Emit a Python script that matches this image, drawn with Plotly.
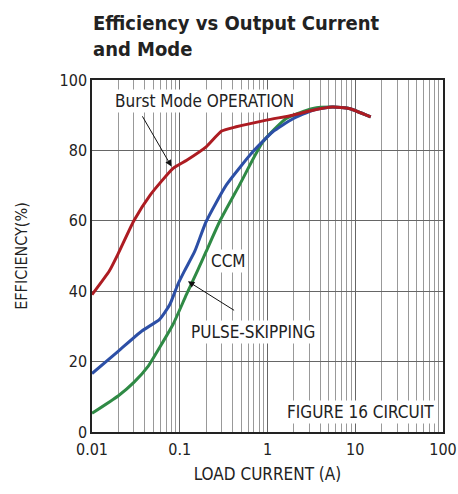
import plotly.graph_objects as go
import math

# ---- data ----
burst_current = [0.01, 0.0158, 0.02, 0.03, 0.046, 0.084, 0.12, 0.2, 0.3, 0.44, 0.97, 1.95, 3.3, 5.5, 8.5, 15]
burst_eff = [39, 45.8, 50.8, 60, 67.3, 74.9, 77.2, 81, 85.5, 86.7, 88.6, 90, 91.4, 92.3, 91.9, 89.5]

pulse_current = [0.01, 0.02, 0.037, 0.059, 0.077, 0.095, 0.114, 0.148, 0.2, 0.34, 0.68, 1.15, 1.95, 3.3, 5.5, 8.5, 15]
pulse_eff = [16.6, 23, 28.7, 32, 36.2, 41.9, 45.9, 51.3, 59.8, 70.2, 79.6, 85.3, 89, 91.4, 92.3, 91.9, 89.5]

ccm_current = [0.01, 0.02, 0.03, 0.044, 0.059, 0.084, 0.119, 0.16, 0.2, 0.285, 0.48, 0.885, 1.62, 3.3, 5.5, 8.5, 15]
ccm_eff = [5.3, 10.3, 14.1, 18.8, 24, 30.6, 39, 45.9, 51.3, 59.8, 70.2, 82.4, 89, 91.9, 92.3, 91.9, 89.5]

x_tick_vals = [0.01, 0.1, 1, 10, 100]
x_tick_text = ["0.01", "0.1", "1", "10", "100"]
y_tick_vals = [0, 20, 40, 60, 80, 100]

# label annotations: (text, current, efficiency)
labels = [
    ("Burst Mode OPERATION", 0.19, 94.0),
    ("CCM", 0.36, 48.5),
    ("PULSE-SKIPPING", 0.68, 28.3),
]
# arrows: (head current, head eff, tail current, tail eff)
arrows = [
    (0.0806, 75.4, 0.0367, 90.1),
    (0.124, 42.8, 0.433, 34.3),
]

FONT = "DejaVu Sans Condensed, Liberation Sans, sans-serif"
RED = "#ad1c22"
BLUE = "#2c4fa6"
GREEN = "#2f8a45"

W, H = 458, 494
ML, MR, MT, MB = 92, 15, 80, 62
PLOT_H = H - MT - MB

fig = go.Figure()
fig.add_trace(go.Scatter(x=ccm_current, y=ccm_eff, mode="lines",
                         line=dict(color=GREEN, width=3, shape="spline", smoothing=0.5)))
fig.add_trace(go.Scatter(x=pulse_current, y=pulse_eff, mode="lines",
                         line=dict(color=BLUE, width=3, shape="spline", smoothing=0.5)))
fig.add_trace(go.Scatter(x=burst_current, y=burst_eff, mode="lines",
                         line=dict(color=RED, width=3, shape="spline", smoothing=0.5)))

annotations = []
annotations.append(dict(x=0, y=1 + 71 / PLOT_H, xref="paper", yref="paper", xanchor="left", yanchor="top",
                        xshift=-1, text="<b>Efficiency vs Output Current<br>and Mode</b>",
                        showarrow=False, align="left",
                        font=dict(family=FONT, size=20, color="#222")))
for text, cx, cy in labels:
    annotations.append(dict(x=math.log10(cx), y=cy, xref="x", yref="y", text=text,
                            showarrow=False, bgcolor="white",
                            font=dict(family=FONT, size=17, color="#222")))
annotations.append(dict(x=1, y=0, xref="paper", yref="paper", xanchor="right", yanchor="bottom",
                        xshift=-7, yshift=8, text="FIGURE 16 CIRCUIT", showarrow=False,
                        bgcolor="white", font=dict(family=FONT, size=17, color="#222")))
for hx, hy, tx, ty in arrows:
    annotations.append(dict(x=math.log10(hx), y=hy, xref="x", yref="y",
                            ax=math.log10(tx), ay=ty, axref="x", ayref="y",
                            text="", showarrow=True, arrowhead=2, arrowsize=1.3,
                            arrowwidth=1, arrowcolor="#111"))

fig.update_layout(
    width=W, height=H,
    margin=dict(l=ML, r=MR, t=MT, b=MB),
    paper_bgcolor="white", plot_bgcolor="white",
    showlegend=False,
    font=dict(family=FONT, size=16, color="#222"),
    annotations=annotations,
)
fig.update_xaxes(type="log", range=[-2, 2], tickvals=x_tick_vals, ticktext=x_tick_text,
                 showgrid=True, gridcolor="#666", gridwidth=1,
                 minor=dict(showgrid=True, gridcolor="#999", gridwidth=1, dtick="D1"),
                 showline=True, linecolor="#222", linewidth=1.5, mirror=True,
                 ticks="", ticklabelstandoff=2, automargin=False, ticklabeloverflow="allow",
                 title=dict(text="LOAD CURRENT (A)", standoff=10,
                            font=dict(family=FONT, size=17)),
                 zeroline=False)
fig.update_yaxes(range=[0, 100], tickvals=y_tick_vals,
                 showgrid=True, gridcolor="#666", gridwidth=1,
                 showline=True, linecolor="#222", linewidth=1.5, mirror=True,
                 ticks="", ticklabelstandoff=0, automargin=False,
                 title=dict(text="EFFICIENCY(%)", standoff=28,
                            font=dict(family=FONT, size=16)),
                 zeroline=False)

# remove the page's default body margin so the figure fills the window exactly
fig.write_html("out.html", config={"displayModeBar": False},
               post_script="document.body.style.margin='0';document.body.style.overflow='hidden';")
